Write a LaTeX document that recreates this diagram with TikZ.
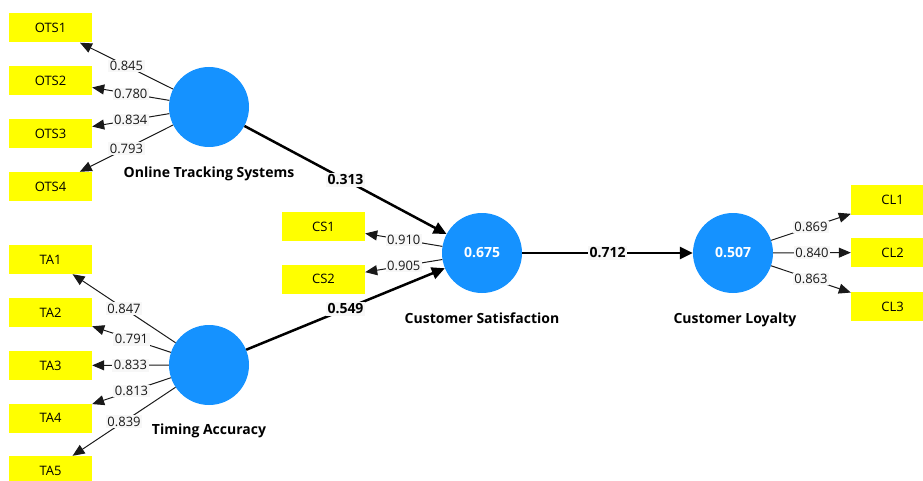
\documentclass[tikz,border=0pt]{standalone}
\usepackage{fontspec}
\setmainfont{Open Sans}
\usetikzlibrary{arrows.meta}
\definecolor{lvblue}{HTML}{1592FF}
\definecolor{indyellow}{HTML}{FFFF00}
\definecolor{wtgray}{HTML}{F7F7F7}

\begin{document}
\begin{tikzpicture}[x=1pt,y=-1pt,line cap=butt,
    lv/.style={circle,fill=lvblue,minimum size=80pt,inner sep=0pt,
               text=white,font=\fontsize{14}{16}\selectfont\bfseries},
    ind/.style={rectangle,fill=indyellow,minimum width=83pt,minimum height=29pt,
                inner sep=0pt,font=\fontsize{13}{15}\selectfont},
    ldg/.style={draw=black!90,line width=1pt,-{Triangle[length=12pt,width=10pt]}},
    pth/.style={draw=black,line width=2.5pt,-{Triangle[length=13pt,width=12pt]}},
    wt/.style={fill=wtgray,inner sep=1.5pt,text=black!90,
               font=\fontsize{13}{15}\selectfont},
    bwt/.style={wt,text=black,font=\fontsize{14}{16}\selectfont\bfseries},
    lvname/.style={anchor=base,font=\fontsize{14}{16}\selectfont\bfseries}]
  \useasboundingbox (0,0) rectangle (923,481);

  % constructs
  \node[lv] (ots) at (209,107) {};
  \node[lv] (ta)  at (209,365) {};
  \node[lv] (cs)  at (482,253) {0.675};
  \node[lv] (cl)  at (733,253) {0.507};
  \node[lvname] (otsname) at (209,178) {Online Tracking Systems};
  \node[lvname] (taname)  at (209,434) {Timing Accuracy};
  \node[lvname] (csname)  at (482,323) {Customer Satisfaction};
  \node[lvname] (clname)  at (735,323) {Customer Loyalty};

  % indicators and loadings
  \foreach \i/\y/\w in {1/28/0.845,2/80.5/0.780,3/133.5/0.834,4/186.5/0.793}{
    \node[ind] (ots\i) at (50.5,\y) {OTS\i};
    \draw[ldg] (ots) -- node[wt] (otsw\i) {\w} (ots\i);
  }
  \foreach \i/\y/\w in {1/259.5/0.847,2/312.5/0.791,3/365.5/0.833,4/418/0.813,5/470.5/0.839}{
    \node[ind] (ta\i) at (50.5,\y) {TA\i};
    \draw[ldg] (ta) -- node[wt] (taw\i) {\w} (ta\i);
  }
  \foreach \i/\y/\w in {1/226.5/0.910,2/279/0.905}{
    \node[ind] (cs\i) at (323.5,\y) {CS\i};
    \draw[ldg] (cs) -- node[wt] (csw\i) {\w} (cs\i);
  }
  \foreach \i/\y/\w in {1/200/0.869,2/252.5/0.840,3/306.5/0.863}{
    \node[ind] (cl\i) at (892.5,\y) {CL\i};
    \draw[ldg] (cl) -- node[wt] (clw\i) {\w} (cl\i);
  }

  % inner model
  \draw[pth] (ots) -- node[bwt] (p1) {0.313} (cs);
  \draw[pth] (ta)  -- node[bwt] (p2) {0.549} (cs);
  \draw[pth] (cs)  -- node[bwt] (p3) {0.712} (cl);
\end{tikzpicture}
\end{document}
